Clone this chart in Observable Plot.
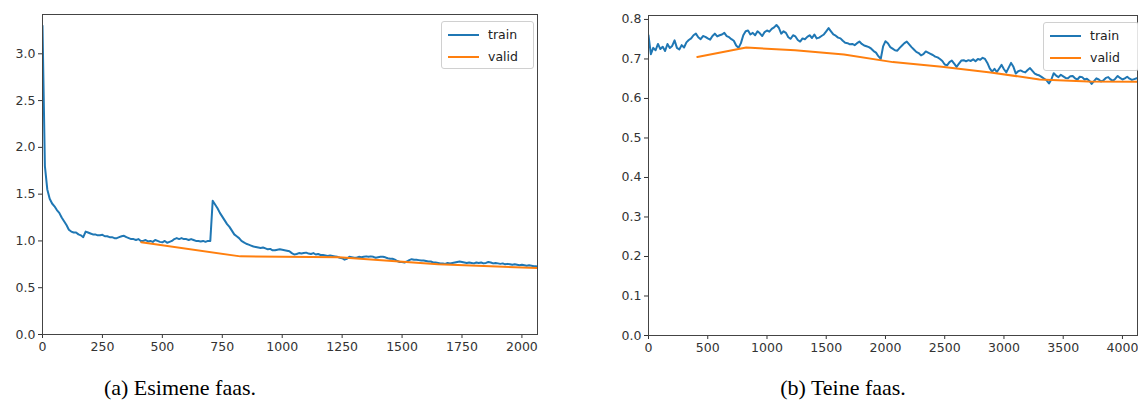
<!DOCTYPE html>
<html>
<head>
<meta charset="utf-8">
<script src="https://cdn.jsdelivr.net/npm/d3@7"></script>
<script src="https://cdn.jsdelivr.net/npm/@observablehq/plot@0.6"></script>
<style>
  html, body { margin: 0; padding: 0; background: #fff; }
  #wrap { position: relative; width: 1138px; height: 407px; overflow: hidden; background: #fff; }
  .panel { position: absolute; top: 0; }
  .legend { position: absolute; background: rgba(255,255,255,0.85); border: 1px solid #d0d0d0; border-radius: 3px;
            font-family: "DejaVu Sans", sans-serif; font-size: 12.5px; color: #222; box-sizing: border-box; }
  .legend .row { position: absolute; left: 0; height: 14px; line-height: 14px; white-space: nowrap; }
  .legend .row svg { position: absolute; left: 5px; top: 0; }
  .legend .row span { position: absolute; left: 46px; top: 0; }
  .caption { position: absolute; font-family: "Liberation Serif", "Times New Roman", serif; font-size: 22px; color: #000; white-space: nowrap; transform: translateX(-50%); }
</style>
</head>
<body>
<div id="wrap"></div>
<script>
// ---------- Data: first phase (a) ----------
const stepA = 10; // iterations between training-loss samples
const trainA = [
  3.30, 1.80, 1.55, 1.45, 1.40, 1.37, 1.33, 1.30, 1.25, 1.21,
  1.17, 1.12, 1.10, 1.09, 1.09, 1.07, 1.06, 1.04, 1.10, 1.09,
  1.08, 1.07, 1.07, 1.06, 1.06, 1.065, 1.05, 1.05, 1.04, 1.04,
  1.03, 1.03, 1.04, 1.05, 1.055, 1.04, 1.03, 1.02, 1.02, 1.01,
  1.02, 1.00, 1.00, 1.01, 0.995, 1.00, 0.99, 1.01, 1.00, 0.99,
  0.985, 1.00, 0.98, 0.99, 1.00, 1.02, 1.03, 1.02, 1.03, 1.02,
  1.02, 1.01, 1.02, 1.01, 1.00, 1.00, 0.995, 1.00, 0.99, 1.00,
  1.00, 1.43, 1.39, 1.35, 1.30, 1.26, 1.22, 1.18, 1.15, 1.11,
  1.07, 1.05, 1.03, 1.00, 0.985, 0.97, 0.96, 0.95, 0.94, 0.935,
  0.93, 0.925, 0.93, 0.92, 0.91, 0.915, 0.90, 0.90, 0.905, 0.91,
  0.905, 0.90, 0.895, 0.89, 0.87, 0.855, 0.86, 0.87, 0.865, 0.87,
  0.875, 0.865, 0.86, 0.87, 0.855, 0.86, 0.85, 0.85, 0.845, 0.84,
  0.845, 0.84, 0.835, 0.83, 0.82, 0.815, 0.80, 0.81, 0.83, 0.825,
  0.82, 0.82, 0.83, 0.825, 0.83, 0.835, 0.83, 0.835, 0.83, 0.82,
  0.825, 0.83, 0.83, 0.825, 0.815, 0.81, 0.81, 0.80, 0.785, 0.775,
  0.775, 0.77, 0.78, 0.795, 0.805, 0.80, 0.80, 0.795, 0.79, 0.79,
  0.785, 0.78, 0.78, 0.77, 0.77, 0.765, 0.76, 0.76, 0.755, 0.765,
  0.76, 0.765, 0.77, 0.775, 0.78, 0.775, 0.77, 0.765, 0.77, 0.765,
  0.76, 0.77, 0.765, 0.77, 0.76, 0.765, 0.775, 0.77, 0.76, 0.765,
  0.76, 0.755, 0.76, 0.75, 0.755, 0.75, 0.745, 0.75, 0.745, 0.74,
  0.745, 0.74, 0.735, 0.74, 0.735, 0.73, 0.73
];
const validItersA = [412, 825, 1237, 1650, 2062];
const validA = [0.985, 0.835, 0.825, 0.752, 0.71];
const xTicksA = [0, 250, 500, 750, 1000, 1250, 1500, 1750, 2000];
const yTicksA = [0, 0.5, 1.0, 1.5, 2.0, 2.5, 3.0];
const xMaxA = 2065;
const yMaxA = 3.42;

// ---------- Data: second phase (b) ----------
const stepB = 20;
const trainB = [
  0.760, 0.712, 0.728, 0.722, 0.738, 0.725, 0.731, 0.720, 0.738, 0.728,
  0.733, 0.747, 0.728, 0.724, 0.735, 0.729, 0.742, 0.748, 0.752, 0.760,
  0.764, 0.755, 0.750, 0.758, 0.756, 0.752, 0.749, 0.758, 0.764, 0.757,
  0.760, 0.762, 0.766, 0.758, 0.755, 0.750, 0.746, 0.734, 0.728, 0.740,
  0.760, 0.770, 0.772, 0.762, 0.766, 0.760, 0.770, 0.765, 0.758, 0.768,
  0.772, 0.769, 0.776, 0.780, 0.786, 0.779, 0.764, 0.770, 0.766, 0.755,
  0.751, 0.760, 0.757, 0.748, 0.744, 0.752, 0.750, 0.756, 0.760, 0.753,
  0.762, 0.752, 0.754, 0.758, 0.762, 0.770, 0.778, 0.770, 0.762, 0.759,
  0.754, 0.752, 0.746, 0.741, 0.740, 0.737, 0.738, 0.735, 0.740, 0.744,
  0.738, 0.734, 0.732, 0.730, 0.726, 0.720, 0.716, 0.707, 0.700, 0.732,
  0.745, 0.740, 0.730, 0.726, 0.722, 0.721, 0.728, 0.734, 0.740, 0.744,
  0.737, 0.730, 0.724, 0.718, 0.715, 0.709, 0.712, 0.719, 0.716, 0.713,
  0.710, 0.706, 0.704, 0.700, 0.695, 0.686, 0.684, 0.692, 0.696, 0.688,
  0.680, 0.688, 0.696, 0.697, 0.694, 0.697, 0.695, 0.699, 0.694, 0.700,
  0.698, 0.703, 0.700, 0.690, 0.676, 0.668, 0.675, 0.667, 0.676, 0.685,
  0.674, 0.666, 0.678, 0.690, 0.680, 0.663, 0.669, 0.671, 0.668, 0.666,
  0.672, 0.677, 0.670, 0.663, 0.660, 0.658, 0.654, 0.650, 0.646, 0.638,
  0.648, 0.664, 0.658, 0.654, 0.660, 0.656, 0.652, 0.651, 0.656, 0.657,
  0.651, 0.648, 0.655, 0.654, 0.648, 0.650, 0.645, 0.637, 0.644, 0.651,
  0.648, 0.643, 0.646, 0.652, 0.654, 0.648, 0.645, 0.650, 0.657, 0.652,
  0.648, 0.651, 0.655, 0.650, 0.647, 0.649, 0.651
];
const validItersB = [412, 825, 1237, 1650, 2062, 2475, 2887, 3300, 3712, 4125];
const validB = [0.705, 0.729, 0.722, 0.711, 0.692, 0.680, 0.666, 0.648, 0.643, 0.642];
const xTicksB = [0, 500, 1000, 1500, 2000, 2500, 3000, 3500, 4000];
const yTicksB = [0, 0.1, 0.2, 0.3, 0.4, 0.5, 0.6, 0.7, 0.8];
const xMaxB = 4127;
const yMaxB = 0.81;

const seriesNames = ["train", "valid"];
const seriesColors = ["#1f77b4", "#ff7f0e"];
const captions = ["(a) Esimene faas.", "(b) Teine faas."];

// ---------- Build ----------
function makePanel({train, step, validIters, valid, xTicks, yTicks, xMax, yMax, width, height, margins}) {
  const trainRows = train.map((v, i) => ({iter: i * step, loss: v}));
  const validRows = valid.map((v, i) => ({iter: validIters[i], loss: v}));
  return Plot.plot({
    width, height,
    marginLeft: margins[0], marginTop: margins[1], marginRight: margins[2], marginBottom: margins[3],
    style: {fontFamily: "DejaVu Sans, sans-serif", fontSize: "12.5px", color: "#333", background: "transparent", overflow: "visible"},
    x: {domain: [0, xMax]},
    y: {domain: [0, yMax]},
    marks: [
      Plot.line(trainRows, {x: "iter", y: "loss", stroke: seriesColors[0], strokeWidth: 2, clip: true}),
      Plot.line(validRows, {x: "iter", y: "loss", stroke: seriesColors[1], strokeWidth: 2, clip: true}),
      Plot.axisX({ticks: xTicks, tickFormat: "d", tickSize: 4, tickPadding: 4, label: null}),
      Plot.axisY({ticks: yTicks, tickFormat: ".1f", tickSize: 4, tickPadding: 3, label: null}),
      Plot.frame({stroke: "#444", strokeWidth: 1})
    ]
  });
}

const wrap = document.getElementById("wrap");

const left = makePanel({train: trainA, step: stepA, validIters: validItersA, valid: validA,
  xTicks: xTicksA, yTicks: yTicksA, xMax: xMaxA, yMax: yMaxA,
  width: 560, height: 365, margins: [42, 14, 23, 31]});
left.classList.add("panel");
left.style.left = "0px";
wrap.appendChild(left);

const right = makePanel({train: trainB, step: stepB, validIters: validItersB, valid: validB,
  xTicks: xTicksB, yTicks: yTicksB, xMax: xMaxB, yMax: yMaxB,
  width: 540, height: 365, margins: [48, 15, 3, 30]});
right.classList.add("panel");
right.style.left = "600px";
wrap.appendChild(right);

function makeLegend(x, y, w, h) {
  const box = document.createElement("div");
  box.className = "legend";
  Object.assign(box.style, {left: x + "px", top: y + "px", width: w + "px", height: h + "px"});
  seriesNames.forEach((name, i) => {
    const row = document.createElement("div");
    row.className = "row";
    row.style.top = (6 + i * 22) + "px";
    row.style.width = w + "px";
    row.innerHTML = `<svg width="34" height="14"><line x1="1" x2="32" y1="7" y2="7" stroke="${seriesColors[i]}" stroke-width="2"/></svg><span>${name}</span>`;
    box.appendChild(row);
  });
  wrap.appendChild(box);
}
makeLegend(441, 21, 93, 48);
makeLegend(1043, 22, 96, 49);

function makeCaption(text, cx, top) {
  const c = document.createElement("div");
  c.className = "caption";
  c.textContent = text;
  c.style.left = cx + "px";
  c.style.top = top + "px";
  wrap.appendChild(c);
}
makeCaption(captions[0], 180, 375);
makeCaption(captions[1], 843, 375);
</script>
</body>
</html>
